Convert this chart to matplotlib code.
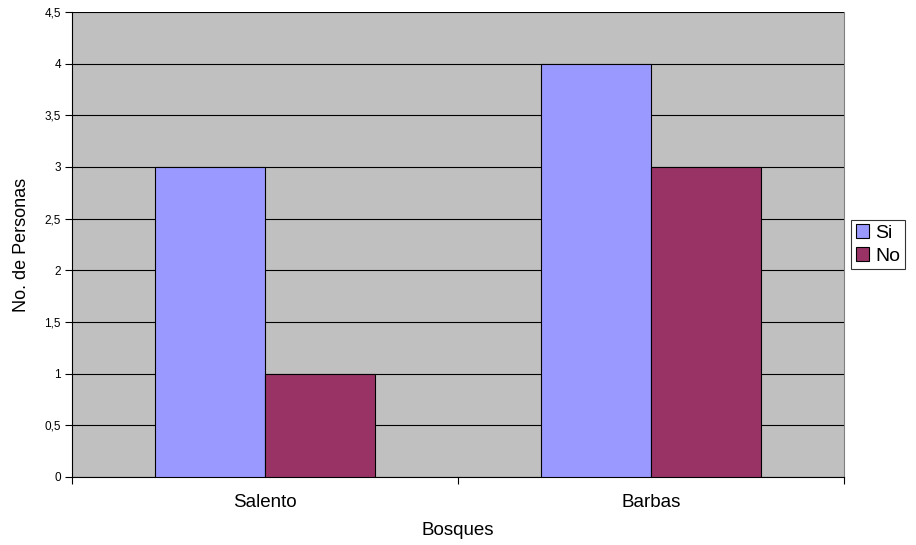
import numpy as np
import matplotlib
matplotlib.use('Agg')
import matplotlib.pyplot as plt
from matplotlib.ticker import FuncFormatter, MultipleLocator

plt.rcParams['font.family'] = ['Liberation Sans', 'DejaVu Sans']

bosques = ['Salento', 'Barbas']
si = [3, 4]
no = [1, 3]

fig = plt.figure(figsize=(9.16, 5.45), dpi=100)
ax = fig.add_axes([0.0786, 0.1248, 0.8428, 0.8532])
ax.set_facecolor('#C0C0C0')

x = np.arange(len(bosques))
w = 0.285
ax.bar(x - w / 2, si, w, color='#9999FF', edgecolor='black', linewidth=0.8, label='Si', zorder=3)
ax.bar(x + w / 2, no, w, color='#993366', edgecolor='black', linewidth=0.8, label='No', zorder=3)

ax.set_xlim(-0.5, len(bosques) - 0.5)
ax.set_ylim(0, 4.5)
ax.yaxis.set_major_locator(MultipleLocator(0.5))
ax.yaxis.set_major_formatter(FuncFormatter(lambda v, p: ('%g' % v).replace('.', ',')))
ax.grid(axis='y', color='black', linewidth=0.8, zorder=1)

# category labels centred, tick marks between categories
ax.set_xticks(x)
ax.set_xticklabels(bosques, fontsize=13.5)
ax.tick_params(axis='x', length=0, pad=12)
ax.set_xticks(np.arange(-0.5, len(bosques)), minor=True)
ax.tick_params(axis='x', which='minor', length=5, width=0.8, direction='out')
ax.tick_params(axis='y', labelsize=8.5, length=5, width=0.8, direction='out', pad=3)

ax.spines['top'].set_visible(False)
ax.spines['right'].set_color('#808080')
ax.spines['right'].set_linewidth(0.8)
ax.spines['left'].set_linewidth(0.8)
ax.spines['bottom'].set_linewidth(0.8)

ax.set_xlabel('Bosques', fontsize=13.5, labelpad=8)
ax.set_ylabel('No. de Personas', fontsize=13, labelpad=10)

leg = ax.legend(loc='center left', bbox_to_anchor=(1.009, 0.5), fontsize=14,
                frameon=True, fancybox=False, edgecolor='black', handlelength=0.7,
                handleheight=0.7, handletextpad=0.3, borderpad=0.25, labelspacing=0.25,
                borderaxespad=0)
leg.get_frame().set_linewidth(0.8)

fig.savefig('out.png', dpi=100)
